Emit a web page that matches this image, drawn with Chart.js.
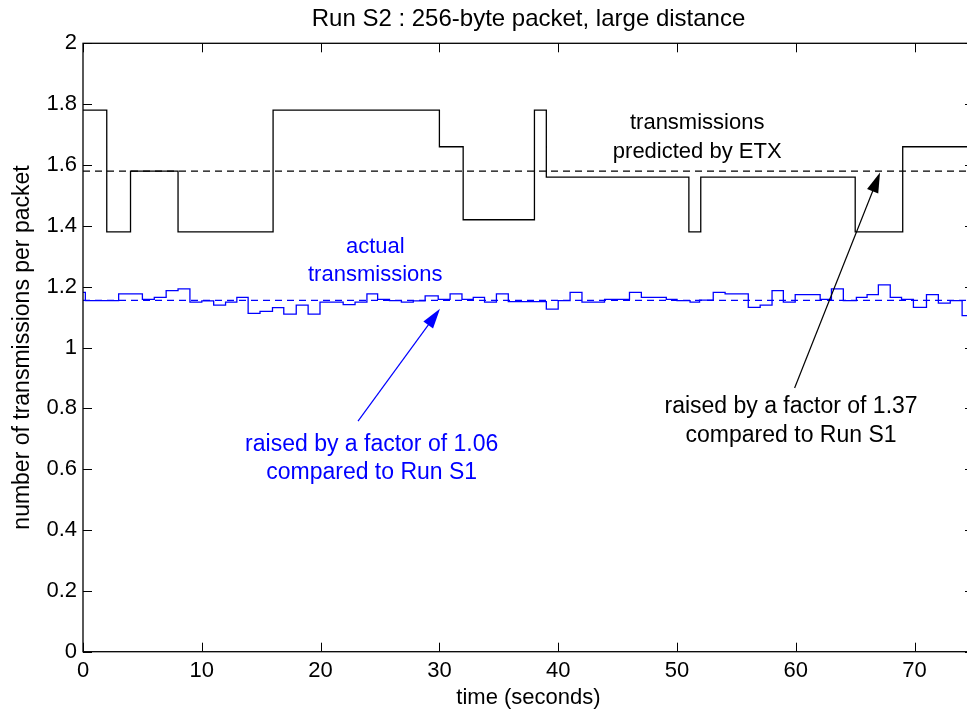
<!DOCTYPE html>
<html>
<head>
<meta charset="utf-8">
<title>Run S2</title>
<script src="https://cdn.jsdelivr.net/npm/chart.js@4.4.0/dist/chart.umd.min.js"></script>
<style>
  html, body { margin: 0; padding: 0; background: #fff; overflow: hidden; }
  canvas { display: block; }
</style>
</head>
<body>
<canvas id="runS2" width="975" height="713" style="width:975px;height:713px"></canvas>
<script>
var fontFamily = '"Liberation Sans", Arial, Helvetica, sans-serif';

// ETX prediction: each value holds from its time until the next one
var etxTimes = [0, 2, 4, 8, 16, 30, 32, 38, 39, 51, 52, 65, 69, 75];
var etxValues = [1.78, 1.38, 1.58, 1.38, 1.78, 1.66, 1.42, 1.78, 1.56, 1.38, 1.56, 1.38, 1.66, 1.66];
var etxMean = 1.58;

// measured transmissions per packet, about one bin per second
var actualTimes = [0, 0.2, 3, 5, 6, 7, 8, 9, 10, 11, 12, 12.95, 13.9, 14.9, 15.95, 16.9, 17.95, 18.95, 19.95,
  21.9, 22.9, 23.9, 24.8, 25.8, 26.8, 27.8, 28.8, 29.9, 30.9, 31.9, 32.85, 33.8, 34.8, 35.8, 39, 40, 41, 42,
  43.9, 46, 47, 49.1, 50, 51.1, 51.9, 53.05, 54.05, 56, 57, 58, 58.95, 59.95, 62.05, 63, 64, 65.1, 66, 66.95,
  67.95, 68.9, 69.9, 71, 72, 73, 74, 75];
var actualValues = [1.181, 1.154, 1.176, 1.158, 1.165, 1.187, 1.193, 1.149, 1.153, 1.139, 1.149, 1.165, 1.112,
  1.119, 1.131, 1.110, 1.139, 1.110, 1.149, 1.141, 1.149, 1.176, 1.158, 1.154, 1.149, 1.153, 1.170, 1.158,
  1.176, 1.158, 1.165, 1.149, 1.176, 1.151, 1.126, 1.154, 1.181, 1.149, 1.158, 1.181, 1.165, 1.158, 1.154,
  1.149, 1.156, 1.181, 1.176, 1.132, 1.139, 1.187, 1.149, 1.174, 1.158, 1.193, 1.154, 1.165, 1.174, 1.206,
  1.165, 1.158, 1.132, 1.174, 1.146, 1.154, 1.105, 1.105];
var actualMean = 1.155;

var timeMin = 0;
var timeMax = 75;
var yMin = 0;
var yMax = 2;

var titleText = "Run S2 : 256-byte packet, large distance";
var xLabel = "time (seconds)";
var yLabel = "number of transmissions per packet";

// notes on the plot, anchored in data units (centre of the first line)
var notes = [
  { lines: ["transmissions", "predicted by ETX"], t: 51.7, v: 1.717, color: "#000", size: 22 },
  { lines: ["actual", "transmissions"], t: 24.6, v: 1.311, color: "#0000ff", size: 22 },
  { lines: ["raised by a factor of 1.06", "compared to Run S1"], t: 24.3, v: 0.66, color: "#0000ff", size: 23 },
  { lines: ["raised by a factor of 1.37", "compared to Run S1"], t: 59.6, v: 0.784, color: "#000", size: 23 }
];
var arrows = [
  { from: [23.15, 0.758], to: [30.05, 1.127], color: "#0000ff" },
  { from: [59.9, 0.867], to: [67.09, 1.575], color: "#000" }
];

function toPoints(xs, ys) {
  return xs.map(function(x, i) { return { x: x, y: ys[i] }; });
}

function flat(value) {
  return [{ x: timeMin, y: value }, { x: timeMax, y: value }];
}

// box round the plot with matlab style ticks pointing inwards
var framePlugin = {
  id: "frame",
  afterDatasetsDraw: function(chart) {
    var ctx = chart.ctx;
    var a = chart.chartArea;
    var xs = chart.scales.x;
    var ys = chart.scales.y;
    var tl = 9;
    ctx.save();
    ctx.strokeStyle = "#000";
    ctx.lineWidth = 1.3;
    ctx.strokeRect(a.left, a.top, a.right - a.left, a.bottom - a.top);
    ctx.lineWidth = 1;
    ctx.beginPath();
    xs.ticks.forEach(function(t) {
      var px = Math.round(xs.getPixelForValue(t.value)) + 0.5;
      ctx.moveTo(px, a.bottom); ctx.lineTo(px, a.bottom - tl);
      ctx.moveTo(px, a.top); ctx.lineTo(px, a.top + tl);
    });
    ys.ticks.forEach(function(t) {
      var py = Math.round(ys.getPixelForValue(t.value)) + 0.5;
      ctx.moveTo(a.left, py); ctx.lineTo(a.left + tl, py);
      ctx.moveTo(a.right, py); ctx.lineTo(a.right - tl, py);
    });
    ctx.stroke();
    ctx.restore();
  },
  afterDraw: function(chart) {
    var ctx = chart.ctx;
    var a = chart.chartArea;
    var xs = chart.scales.x;
    var ys = chart.scales.y;
    ctx.save();
    ctx.textAlign = "center";
    ctx.textBaseline = "alphabetic";
    ctx.fillStyle = "#000";
    ctx.font = "24px " + fontFamily;
    ctx.fillText(titleText, (a.left + a.right) / 2, 26);
    ctx.font = "22px " + fontFamily;
    ctx.fillText(xLabel, (a.left + a.right) / 2, 704);
    ctx.save();
    ctx.font = "23px " + fontFamily;
    ctx.translate(28.5, (a.top + a.bottom) / 2);
    ctx.rotate(-Math.PI / 2);
    ctx.fillText(yLabel, 0, 0);
    ctx.restore();

    notes.forEach(function(n) {
      ctx.fillStyle = n.color;
      ctx.font = n.size + "px " + fontFamily;
      var x = xs.getPixelForValue(n.t);
      var y = ys.getPixelForValue(n.v);
      n.lines.forEach(function(line, i) {
        ctx.fillText(line, x, y + i * 28.5);
      });
    });

    arrows.forEach(function(ar) {
      var x0 = xs.getPixelForValue(ar.from[0]), y0 = ys.getPixelForValue(ar.from[1]);
      var x1 = xs.getPixelForValue(ar.to[0]), y1 = ys.getPixelForValue(ar.to[1]);
      var ang = Math.atan2(y1 - y0, x1 - x0);
      var len = 20, half = 6;
      ctx.strokeStyle = ar.color;
      ctx.fillStyle = ar.color;
      ctx.lineWidth = 1.2;
      ctx.beginPath();
      ctx.moveTo(x0, y0);
      ctx.lineTo(x1 - Math.cos(ang) * len * 0.8, y1 - Math.sin(ang) * len * 0.8);
      ctx.stroke();
      var bx = x1 - Math.cos(ang) * len, by = y1 - Math.sin(ang) * len;
      ctx.beginPath();
      ctx.moveTo(x1, y1);
      ctx.lineTo(bx + Math.sin(ang) * half, by - Math.cos(ang) * half);
      ctx.lineTo(bx - Math.sin(ang) * half, by + Math.cos(ang) * half);
      ctx.closePath();
      ctx.fill();
    });
    ctx.restore();
  }
};

var ctx = document.querySelector("#runS2").getContext("2d");

window.runChart = new Chart(ctx, {
  type: "line",
  data: {
    datasets: [{
      label: "ETX",
      data: toPoints(etxTimes, etxValues),
      borderColor: "#000",
      borderWidth: 1.3,
      stepped: true,
      pointRadius: 0,
      fill: false
    }, {
      label: "actual",
      data: toPoints(actualTimes, actualValues),
      borderColor: "#0000ff",
      borderWidth: 1.3,
      stepped: true,
      pointRadius: 0,
      fill: false
    }, {
      label: "ETX mean",
      data: flat(etxMean),
      borderColor: "#000",
      borderWidth: 1.3,
      borderDash: [7, 5],
      pointRadius: 0,
      fill: false
    }, {
      label: "actual mean",
      data: flat(actualMean),
      borderColor: "#0000ff",
      borderWidth: 1.3,
      borderDash: [7, 5],
      pointRadius: 0,
      fill: false
    }]
  },
  options: {
    responsive: false,
    animation: false,
    layout: { padding: { top: 43.3, right: 1, left: 0, bottom: 0 } },
    plugins: {
      legend: { display: false },
      tooltip: { enabled: false }
    },
    scales: {
      x: {
        type: "linear",
        min: timeMin,
        max: timeMax,
        grid: { display: false, drawTicks: false },
        border: { display: false },
        ticks: {
          stepSize: 10,
          includeBounds: false,
          maxRotation: 0,
          padding: 6,
          color: "#000",
          font: { family: fontFamily, size: 22 }
        },
        afterFit: function(scale) { scale.height = 61.3; }
      },
      y: {
        min: yMin,
        max: yMax,
        grid: { display: false, drawTicks: false },
        border: { display: false },
        ticks: {
          stepSize: 0.2,
          padding: 6,
          color: "#000",
          font: { family: fontFamily, size: 22 },
          // 1 and 2 without a trailing .0
          callback: function(value) { return String(Math.round(value * 10) / 10); }
        },
        afterFit: function(scale) { scale.width = 83; }
      }
    }
  },
  plugins: [framePlugin]
});
</script>
</body>
</html>
